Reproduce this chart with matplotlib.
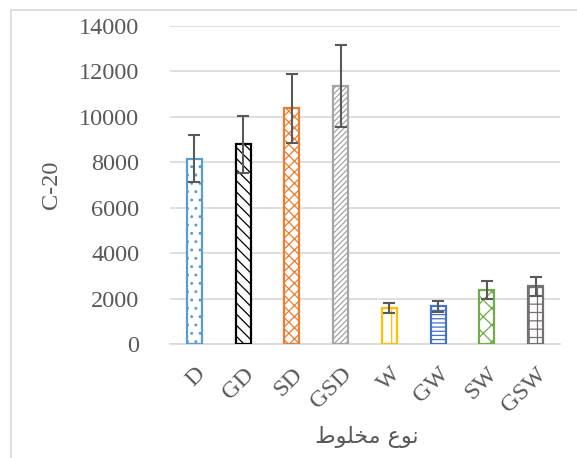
import matplotlib
matplotlib.use("Agg")
import matplotlib.pyplot as plt
from matplotlib.patches import Rectangle

# Mixture types and measured C-20 values with their error margins
categories = ["D", "GD", "SD", "GSD", "W", "GW", "SW", "GSW"]
values = [8150, 8800, 10370, 11360, 1570, 1660, 2390, 2550]
errors = [1030, 1250, 1520, 1790, 220, 240, 390, 420]

edge_colors = ["#5B9BD5", "#000000", "#ED7D31", "#A5A5A5",
               "#FFC000", "#4472C4", "#70AD47", "#767171"]
hatches = ["..", "\\\\\\", "xxx", "//////", "|", "----", "xx", "++"]

y_ticks = [0, 2000, 4000, 6000, 8000, 10000, 12000, 14000]

# Arabic axis title pre-shaped into presentation forms (visual order)
x_title = "\uFEC1\uFEEE\uFEE0\uFEA8\uFEE3 \uFEC9\uFEEE\uFEE7"

plt.rcParams["hatch.linewidth"] = 0.9
serif = ["Liberation Serif", "DejaVu Serif"]
tick_color = "#595959"
grid_color = "#D9D9D9"

fig = plt.figure(figsize=(5.77, 4.58), dpi=100)
ax = fig.add_axes([0.2946, 0.2489, 0.9705 - 0.2946, 0.9432 - 0.2489])

x = list(range(len(categories)))
for i in x:
    ax.bar(i, values[i], width=0.31, facecolor="white",
           edgecolor=edge_colors[i], hatch=hatches[i], linewidth=1.6, zorder=3)
ax.errorbar(x, values, yerr=errors, fmt="none", ecolor=tick_color,
            elinewidth=1.5, capsize=4.5, capthick=1.5, zorder=4)

ax.set_xlim(-0.5, len(categories) - 0.5)
ax.set_ylim(0, 14000)
ax.set_yticks(y_ticks)
ax.set_yticklabels([str(v) for v in y_ticks], family=serif, fontsize=17.5,
                   color=tick_color)
ax.set_xticks(x)
ax.set_xticklabels(categories, family=serif, fontsize=17.5, color=tick_color,
                   rotation=45, ha="right", va="top", rotation_mode="anchor")
ax.tick_params(axis="both", length=0)
ax.tick_params(axis="y", pad=22)
ax.tick_params(axis="x", pad=14)

ax.yaxis.grid(True, color=grid_color, linewidth=1.2, zorder=0)
ax.set_axisbelow(True)
for side in ["left", "right", "top"]:
    ax.spines[side].set_visible(False)
ax.spines["bottom"].set_color(grid_color)
ax.spines["bottom"].set_linewidth(1.2)

ax.set_ylabel("C-20", family=serif, fontsize=17.5, color=tick_color,
              labelpad=12)
fig.text(367 / 577, 1 - 437 / 458, x_title, family=["DejaVu Sans"],
         fontsize=16, color=tick_color, ha="center", va="center")

# Chart-area border
fig.patches.append(Rectangle((11 / 577, -0.2), 1.2, 1.2 - 10 / 458,
                             transform=fig.transFigure, fill=False,
                             edgecolor="#D9D9D9", linewidth=1.2))

fig.savefig("out.png", dpi=100)
